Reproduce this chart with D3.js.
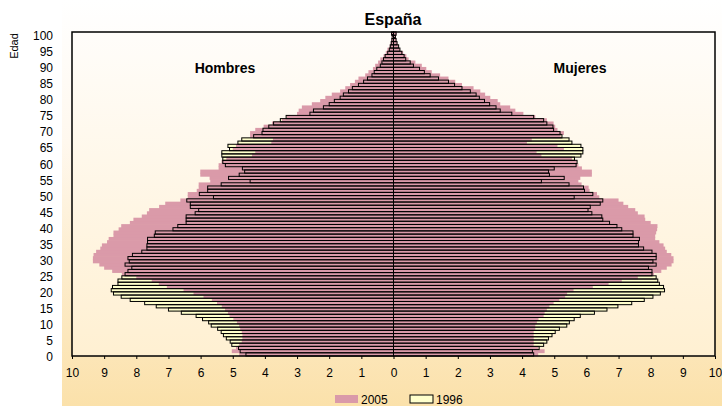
<!DOCTYPE html>
<html>
<head>
<meta charset="utf-8">
<script src="https://cdn.jsdelivr.net/npm/d3@7"></script>
<style>
  body { margin: 0; background: #ffffff; }
  svg text { font-family: "Liberation Sans", Arial, sans-serif; fill: #000; }
</style>
</head>
<body>
<div id="chart"></div>
<script>
// per mil of total population, ages 0..100
var ages = d3.range(0, 101);

var hombres1996 = [
  4.59, 4.77, 4.82, 5.03, 5.08, 5.20, 5.29, 5.36, 5.47, 5.67,
  5.75, 5.94, 6.14, 6.60, 7.00, 7.38, 7.74, 8.19, 8.47, 8.71,
  8.78, 8.74, 8.57, 8.57, 8.45, 8.35, 8.26, 8.14, 8.35, 8.22,
  8.26, 8.12, 7.83, 7.67, 7.67, 7.65, 7.65, 7.44, 7.41, 6.86,
  6.71, 6.45, 6.45, 6.45, 6.17, 6.06, 6.32, 6.32, 6.43, 5.60,
  6.04, 5.78, 5.78, 5.36, 4.46, 5.13, 4.80, 4.63, 4.70, 5.23,
  5.31, 5.31, 5.34, 5.34, 5.10, 5.15, 4.84, 4.72, 4.35, 4.09,
  4.06, 3.88, 3.73, 3.52, 3.34, 2.60, 2.49, 2.18, 2.00, 1.84,
  1.66, 1.56, 1.40, 1.28, 1.09, 0.93, 0.81, 0.67, 0.60, 0.52,
  0.41, 0.36, 0.31, 0.26, 0.18, 0.13, 0.10, 0.07, 0.05, 0.04, 0.06
];
var hombres2005 = [
  4.80, 5.03, 4.90, 4.80, 4.72, 4.70, 4.70, 4.72, 4.77, 4.80,
  4.87, 4.98, 5.10, 5.15, 5.24, 5.34, 5.49, 5.65, 5.91, 6.22,
  6.53, 7.05, 7.30, 7.52, 8.00, 8.45, 8.75, 9.00, 9.15, 9.35,
  9.35, 9.33, 9.25, 9.12, 9.07, 8.91, 8.86, 8.71, 8.71, 8.55,
  8.47, 8.20, 8.09, 7.83, 7.67, 7.60, 7.29, 7.10, 6.63, 6.40,
  6.40, 6.12, 6.06, 6.06, 5.70, 5.72, 6.01, 6.01, 5.44, 5.44,
  5.35, 5.20, 4.40, 4.30, 5.00, 4.90, 3.80, 3.75, 4.46, 4.46,
  4.30, 4.04, 3.78, 3.47, 3.32, 3.00, 2.95, 2.85, 2.54, 2.28,
  2.12, 1.92, 1.66, 1.50, 1.35, 1.20, 1.09, 0.88, 0.78, 0.64,
  0.57, 0.48, 0.41, 0.31, 0.24, 0.19, 0.12, 0.09, 0.07, 0.05, 0.08
];
var mujeres1996 = [
  4.36, 4.32, 4.53, 4.67, 4.77, 4.82, 4.93, 5.03, 5.16, 5.39,
  5.47, 5.62, 5.81, 6.25, 6.64, 6.98, 7.41, 7.80, 8.07, 8.30,
  8.43, 8.40, 8.27, 8.22, 8.17, 8.04, 8.04, 7.93, 8.17, 8.07,
  8.17, 8.17, 8.04, 7.78, 7.62, 7.62, 7.65, 7.45, 7.45, 7.10,
  6.95, 6.72, 6.51, 6.48, 6.17, 6.05, 6.12, 6.43, 6.51, 5.62,
  6.20, 5.94, 5.91, 5.46, 4.60, 5.31, 4.85, 4.82, 5.00, 5.68,
  5.71, 5.63, 5.83, 5.89, 5.89, 5.83, 5.55, 5.46, 5.24, 5.18,
  4.98, 4.96, 4.77, 4.67, 4.36, 3.68, 3.32, 3.19, 2.99, 2.83,
  2.67, 2.57, 2.39, 2.13, 1.90, 1.71, 1.40, 1.14, 0.96, 0.81,
  0.62, 0.52, 0.38, 0.33, 0.26, 0.20, 0.16, 0.11, 0.08, 0.06, 0.08
];
var mujeres2005 = [
  4.50, 4.70, 4.50, 4.36, 4.36, 4.36, 4.36, 4.36, 4.41, 4.41,
  4.46, 4.51, 4.67, 4.70, 4.77, 4.85, 4.98, 5.16, 5.34, 5.40,
  5.60, 6.20, 6.69, 7.10, 7.60, 8.10, 8.33, 8.50, 8.65, 8.71,
  8.71, 8.64, 8.50, 8.45, 8.40, 8.27, 8.14, 8.14, 8.17, 8.20,
  8.21, 8.00, 7.83, 7.81, 7.60, 7.52, 7.30, 7.15, 7.00, 6.40,
  6.33, 6.10, 6.07, 5.85, 5.75, 5.81, 6.17, 6.17, 5.86, 5.75,
  5.70, 5.55, 4.60, 4.45, 5.30, 5.10, 4.15, 4.30, 5.20, 5.30,
  5.10, 5.03, 4.98, 4.77, 4.41, 4.04, 3.79, 3.63, 3.32, 3.24,
  3.01, 2.85, 2.70, 2.49, 2.13, 1.92, 1.71, 1.45, 1.19, 1.02,
  0.88, 0.68, 0.47, 0.40, 0.30, 0.20, 0.16, 0.12, 0.09, 0.06, 0.10
];
var edadTicks = d3.range(0, 101, 5);
var xTicks = d3.range(-10, 11, 1);
var years = ["2005", "1996"];

var width = 722, height = 406;
var plot = { left: 72, right: 715, top: 32, bottom: 356 };

var svg = d3.select("#chart").append("svg")
  .attr("width", width).attr("height", height);

var defs = svg.append("defs");
var g1 = defs.append("linearGradient").attr("id", "outerBg")
  .attr("x1", 0).attr("y1", 0).attr("x2", 0).attr("y2", 1);
g1.append("stop").attr("offset", "0%").attr("stop-color", "#ffffff");
g1.append("stop").attr("offset", "35%").attr("stop-color", "#fff8ee");
g1.append("stop").attr("offset", "100%").attr("stop-color", "#fbe1aa");
var g2 = defs.append("linearGradient").attr("id", "plotBg")
  .attr("x1", 0).attr("y1", 0).attr("x2", 0).attr("y2", 1);
g2.append("stop").attr("offset", "0%").attr("stop-color", "#fffdfa");
g2.append("stop").attr("offset", "100%").attr("stop-color", "#fff0d2");

svg.append("rect").attr("x", 62).attr("y", 0)
  .attr("width", width - 62).attr("height", height)
  .attr("fill", "url(#outerBg)");
svg.append("rect").attr("x", plot.left).attr("y", plot.top)
  .attr("width", plot.right - plot.left).attr("height", plot.bottom - plot.top)
  .attr("fill", "url(#plotBg)");

var x = d3.scaleLinear().domain([-10, 10]).range([plot.left, plot.right]);
var y = d3.scaleBand().domain(ages).range([plot.bottom, plot.top]).padding(0);

var pink = "#da9aa9", yellow = "#ffffcc";

function bars(cls, values, side, fill, stroke) {
  // filled bars overlap a little so no seams show between ages
  var extra = stroke == "none" ? 0.7 : 0;
  svg.append("g").attr("class", cls).selectAll("rect")
    .data(values).enter().append("rect")
    .attr("x", function (d) { return side < 0 ? x(-d) : x(0); })
    .attr("y", function (d, i) { return y(ages[i]) - extra / 2; })
    .attr("width", function (d) { return x(d) - x(0); })
    .attr("height", y.bandwidth() + extra)
    .attr("fill", fill)
    .attr("stroke", stroke)
    .attr("stroke-width", stroke == "none" ? 0 : 1);
}

// 1996 fill, then 2005, then 1996 outlines on top
bars("h96fill", hombres1996, -1, yellow, "none");
bars("m96fill", mujeres1996, 1, yellow, "none");
bars("h05", hombres2005, -1, pink, "none");
bars("m05", mujeres2005, 1, pink, "none");
bars("h96line", hombres1996, -1, "none", "#000");
bars("m96line", mujeres1996, 1, "none", "#000");

// centre line
svg.append("line").attr("x1", x(0)).attr("x2", x(0))
  .attr("y1", plot.top).attr("y2", plot.bottom)
  .attr("stroke", "#000").attr("stroke-width", 1);

// border
svg.append("rect").attr("x", plot.left).attr("y", plot.top)
  .attr("width", plot.right - plot.left).attr("height", plot.bottom - plot.top)
  .attr("fill", "none").attr("stroke", "#000").attr("stroke-width", 1.5);

// x axis
var xAxis = d3.axisBottom(x).tickValues(xTicks).tickSize(3).tickPadding(9)
  .tickFormat(function (d) { return Math.abs(d); });
var xg = svg.append("g").attr("transform", "translate(0," + plot.bottom + ")").call(xAxis);
xg.select(".domain").remove();
xg.selectAll("line").attr("stroke", "#000");
xg.selectAll("text").style("font-size", "12px");

// y labels
svg.append("g").selectAll("text").data(edadTicks).enter().append("text")
  .attr("x", 53)
  .attr("y", function (d) { return y(d) + y.step() + 1; })
  .attr("dominant-baseline", "central")
  .style("text-anchor", "end")
  .style("font-size", "12px")
  .text(function (d) { return d; });

svg.append("text")
  .attr("transform", "translate(18,46) rotate(-90)")
  .style("text-anchor", "middle").style("font-size", "11px")
  .text("Edad");

svg.append("text").attr("x", 393).attr("y", 25)
  .style("text-anchor", "middle").style("font-size", "16px").style("font-weight", "bold")
  .text("España");
svg.append("text").attr("x", 225).attr("y", 73)
  .style("text-anchor", "middle").style("font-size", "14px").style("font-weight", "bold")
  .text("Hombres");
svg.append("text").attr("x", 580).attr("y", 73)
  .style("text-anchor", "middle").style("font-size", "14px").style("font-weight", "bold")
  .text("Mujeres");

// legend
var legend = svg.append("g").selectAll("g").data(years).enter().append("g")
  .attr("transform", function (d, i) { return "translate(" + (335 + i * 75) + ",395)"; });
legend.append("rect").attr("width", 23).attr("height", 8)
  .attr("fill", function (d, i) { return i == 0 ? pink : yellow; })
  .attr("stroke", function (d, i) { return i == 0 ? "none" : "#000"; });
legend.append("text").attr("x", 26).attr("y", 8.5)
  .style("font-size", "12px")
  .text(function (d) { return d; });
</script>
</body>
</html>
